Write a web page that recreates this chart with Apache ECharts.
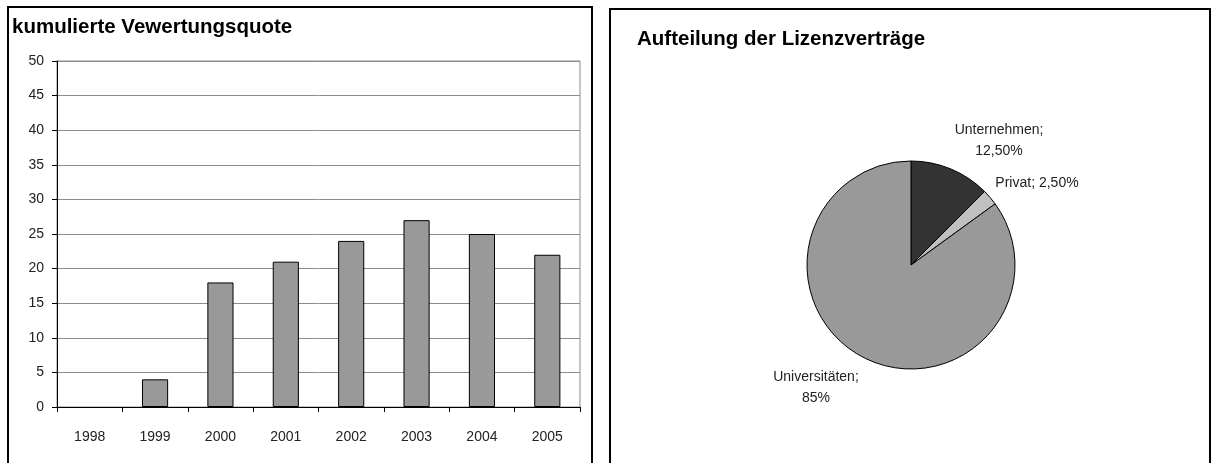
<!DOCTYPE html>
<html>
<head>
<meta charset="utf-8">
<script src="https://cdn.jsdelivr.net/npm/echarts@6/dist/echarts.min.js"></script>
<style>
html,body{margin:0;padding:0;background:#fff;}
#c{width:1214px;height:463px;}
</style>
</head>
<body>
<div id="c"></div>
<script>
// ---- data ----
const barTitle = 'kumulierte Vewertungsquote';
const years = ['1998','1999','2000','2001','2002','2003','2004','2005'];
const quota = [0, 4, 18, 21, 24, 27, 25, 22];
const yTicks = {min: 0, max: 50, interval: 5};

const pieTitle = 'Aufteilung der Lizenzverträge';
const pieNames = ['Unternehmen', 'Privat', 'Universitäten'];
const pieValues = [12.5, 2.5, 85];
const pieValueText = ['12,50%', '2,50%', '85%'];

// ---- style ----
const FONT = '"Liberation Sans", Arial, sans-serif';
const pieColors = ['#333333', '#c0c0c0', '#999999'];
const pieSep = [';\n', '; ', ';\n'];
const pieCenter = [911, 265];
const pieRadius = 104;
const labelOffsets = [[88, -124], [126, -82], [-95, 123]];

const chart = echarts.init(document.getElementById('c'), null, {renderer: 'canvas'});

chart.setOption({
  animation: false,
  backgroundColor: '#fff',
  textStyle: {fontFamily: FONT},
  graphic: [
    {type: 'rect', shape: {x: 8, y: 7, width: 584, height: 470}, style: {fill: 'none', stroke: '#000', lineWidth: 2}, z: -1},
    {type: 'rect', shape: {x: 610, y: 9, width: 600, height: 470}, style: {fill: 'none', stroke: '#000', lineWidth: 2}, z: -1},
    {type: 'text', left: 12, top: 17, style: {text: barTitle, font: 'bold 20.5px ' + FONT, fill: '#000'}},
    {type: 'text', left: 637, top: 29, style: {text: pieTitle, font: 'bold 20.5px ' + FONT, fill: '#000'}}
  ],
  grid: {left: 57, right: 634, top: 61, bottom: 56, show: true, borderColor: '#8c8c8c', borderWidth: 1, containLabel: false},
  xAxis: {
    type: 'category',
    data: years,
    axisLine: {lineStyle: {color: '#000', width: 1}},
    axisTick: {show: true, length: 5, inside: false, lineStyle: {color: '#000'}},
    axisLabel: {color: '#222', fontSize: 14, fontFamily: FONT, margin: 23}
  },
  yAxis: {
    type: 'value',
    min: yTicks.min, max: yTicks.max, interval: yTicks.interval,
    axisLine: {show: true, lineStyle: {color: '#000', width: 1}},
    axisTick: {show: true, length: 5, lineStyle: {color: '#000'}},
    axisLabel: {color: '#222', fontSize: 14, fontFamily: FONT, margin: 13},
    splitLine: {show: true, lineStyle: {color: '#8c8c8c', width: 1}}
  },
  series: [
    {
      type: 'bar',
      data: quota.map(v => ({value: v, itemStyle: {borderWidth: v === 0 ? 0 : 1}})),
      barWidth: '40%',
      itemStyle: {color: '#999999', borderColor: '#000', borderWidth: 1},
      silent: true
    },
    {
      type: 'pie',
      center: pieCenter,
      radius: pieRadius,
      startAngle: 90,
      clockwise: true,
      avoidLabelOverlap: false,
      data: pieNames.map((n, i) => ({name: n, value: pieValues[i], itemStyle: {color: pieColors[i]}})),
      itemStyle: {borderColor: '#000', borderWidth: 1},
      label: {
        show: true,
        position: 'outside',
        color: '#222',
        fontSize: 14,
        fontFamily: FONT,
        lineHeight: 21,
        formatter: p => pieNames[p.dataIndex] + pieSep[p.dataIndex] + pieValueText[p.dataIndex]
      },
      labelLine: {show: false},
      labelLayout: p => ({
        x: pieCenter[0] + labelOffsets[p.dataIndex][0],
        y: pieCenter[1] + labelOffsets[p.dataIndex][1],
        align: 'center',
        verticalAlign: 'middle'
      }),
      emphasis: {disabled: true}
    }
  ]
});
</script>
</body>
</html>
